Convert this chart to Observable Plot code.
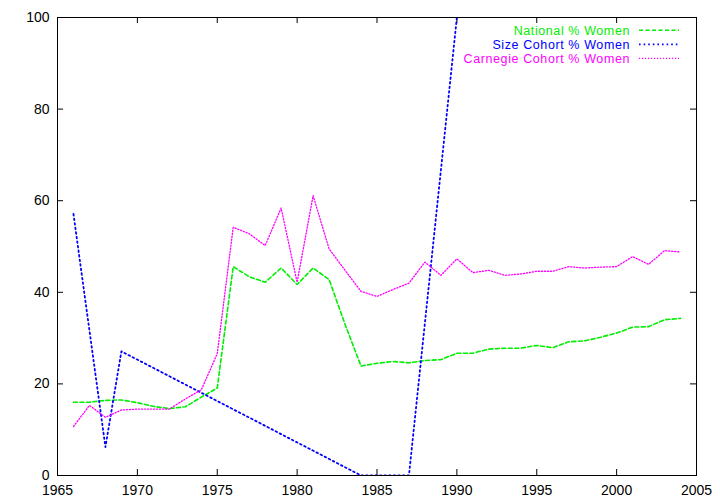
<!DOCTYPE html>
<html>
<head>
<meta charset="utf-8">
<script src="https://cdn.jsdelivr.net/npm/d3@7"></script>
<script src="https://cdn.jsdelivr.net/npm/@observablehq/plot@0.6"></script>
<style>
  body { margin: 0; background: #fff; }
  #chart svg { font-family: "Liberation Sans", Arial, Helvetica, sans-serif; }
</style>
</head>
<body>
<div id="chart"></div>
<script>
const years = [1966,1967,1968,1969,1970,1971,1972,1973,1974,1975,1976,1977,1978,1979,1980,1981,1982,1983,1984,1985,1986,1987,1988,1989,1990,1991,1992,1993,1994,1995,1996,1997,1998,1999,2000,2001,2002,2003,2004];
const nationalValues = [16.0,16.0,16.4,16.5,15.9,15.1,14.6,15.0,17.1,19.1,45.6,43.4,42.2,45.3,41.7,45.3,42.8,33.0,23.9,24.5,24.9,24.6,25.1,25.3,26.7,26.7,27.6,27.8,27.8,28.4,27.9,29.2,29.4,30.2,31.1,32.4,32.5,34.0,34.3];
const carnegieValues = [10.7,15.3,12.7,14.3,14.5,14.5,14.5,16.7,18.7,26.6,54.2,52.8,50.2,58.4,42.2,61.1,49.5,44.8,40.2,39.1,40.6,42.0,46.6,43.7,47.3,44.3,44.8,43.7,44.0,44.6,44.6,45.6,45.3,45.5,45.6,47.8,46.1,49.1,48.8];
const sizeYears = [1966,1968,1969,1984,1985,1986,1987,1990];
const sizeValues = [57.1,6.2,27.1,0,0,0,0,100];

const xTicks = [1965,1970,1975,1980,1985,1990,1995,2000,2005];
const yTicks = [0,20,40,60,80,100];

const seriesNames = ["National % Women","Size Cohort % Women","Carnegie Cohort % Women"];
const seriesColors = ["#00ee00","#0000ff","#ff00ff"];
const seriesDash = ["4,2.5","1.6,3","1.2,1.8"];
const seriesWidth = [1.6,1.8,1.3];

const national = years.map((year, i) => ({year, value: nationalValues[i]}));
const carnegie = years.map((year, i) => ({year, value: carnegieValues[i]}));
const sizeCohort = sizeYears.map((year, i) => ({year, value: sizeValues[i]}));
const seriesData = [national, sizeCohort, carnegie];

const W = 720, H = 504, mL = 57, mR = 24, mT = 17, mB = 29;
const innerW = W - mL - mR, innerH = H - mT - mB;
const tick = 6;

const chart = Plot.plot({
  width: W, height: H,
  marginLeft: mL, marginRight: mR, marginTop: mT, marginBottom: mB,
  style: {fontFamily: '"Liberation Sans", Arial, sans-serif', fontSize: "14px", background: "#fff", color: "#000"},
  x: {domain: [1965, 2005]},
  y: {domain: [0, 100]},
  marks: [
    Plot.ruleX(xTicks, {insetTop: innerH - tick, stroke: "#000"}),
    Plot.ruleX(xTicks, {insetBottom: innerH - tick, stroke: "#000"}),
    Plot.ruleY(yTicks, {insetRight: innerW - tick, stroke: "#000"}),
    Plot.ruleY(yTicks, {insetLeft: innerW - tick, stroke: "#000"}),
    Plot.axisX({ticks: xTicks, tickSize: 0, tickPadding: 10, tickFormat: "d", label: null, fontSize: 14}),
    Plot.axisY({ticks: yTicks, tickSize: 0, tickPadding: 8, label: null, fontSize: 14}),
    ...seriesData.map((d, i) => Plot.line(d, {
      x: "year", y: "value",
      stroke: seriesColors[i], strokeWidth: seriesWidth[i],
      strokeDasharray: seriesDash[i], clip: true
    })),
    Plot.frame({stroke: "#000", strokeWidth: 1})
  ]
});

// legend, inside the top-right of the frame (gnuplot style)
const svg = d3.select(chart);
const right = W - mR;
const lg = svg.append("g").attr("font-size", 12.5).attr("letter-spacing", "0.6px");
seriesNames.forEach((name, i) => {
  const yy = mT + 13.3 + 14 * i;
  lg.append("text")
    .attr("x", right - 66).attr("y", yy).attr("dy", "0.35em")
    .attr("text-anchor", "end").attr("fill", seriesColors[i])
    .text(name);
  lg.append("line")
    .attr("x1", right - 57).attr("x2", right - 17)
    .attr("y1", yy).attr("y2", yy)
    .attr("stroke", seriesColors[i]).attr("stroke-width", seriesWidth[i])
    .attr("stroke-dasharray", seriesDash[i]);
});

document.getElementById("chart").append(chart);
</script>
</body>
</html>
